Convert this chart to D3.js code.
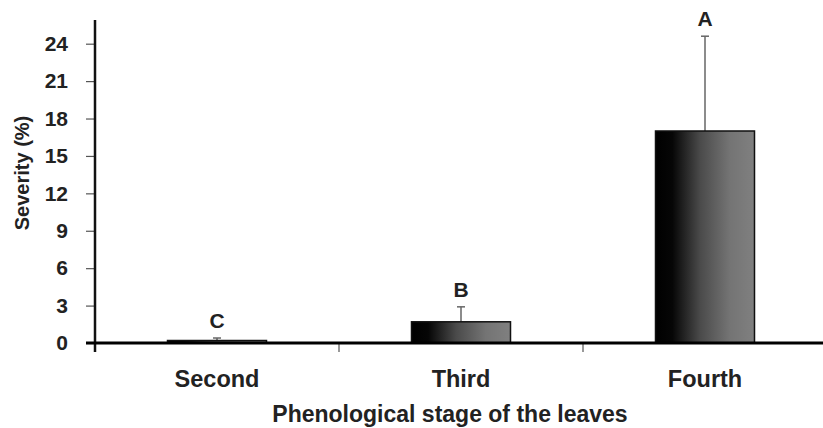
<!DOCTYPE html>
<html>
<head>
<meta charset="utf-8">
<script src="https://cdn.jsdelivr.net/npm/d3@7"></script>
<style>
  body { margin: 0; background: #fff; }
  text { font-family: "Liberation Sans", Arial, sans-serif; font-weight: bold; fill: #222; }
</style>
</head>
<body>
<svg id="chart" width="823" height="428"></svg>
<script>
const stages = ['Second', 'Third', 'Fourth']
const severity = [0.2, 1.7, 17.0]
const errors = [0.2, 1.2, 7.6]
const letters = ['C', 'B', 'A']
const yTicks = [0, 3, 6, 9, 12, 15, 18, 21, 24]

const svg = d3.select('#chart')

const x = d3.scaleBand().domain(stages).range([95, 827]).paddingInner(0).paddingOuter(0)
const y = d3.scaleLinear().domain([0, 25.9]).range([343, 20])

// gradient for the bars
const grad = svg.append('defs').append('linearGradient')
  .attr('id', 'barGrad').attr('x1', '0%').attr('x2', '100%').attr('y1', '0%').attr('y2', '0%')
grad.append('stop').attr('offset', '0%').attr('stop-color', '#000')
grad.append('stop').attr('offset', '17%').attr('stop-color', '#060606')
grad.append('stop').attr('offset', '45%').attr('stop-color', '#4a4a4a')
grad.append('stop').attr('offset', '75%').attr('stop-color', '#747474')
grad.append('stop').attr('offset', '100%').attr('stop-color', '#808080')

const barW = 99
const data = stages.map((s, i) => ({ stage: s, v: severity[i], e: errors[i], l: letters[i] }))

// error bars (drawn first so bars cover the lower part)
const eb = svg.append('g').attr('stroke', '#666').attr('stroke-width', 1.5)
eb.selectAll('line.v').data(data).join('line')
  .attr('x1', d => x(d.stage) + x.bandwidth() / 2)
  .attr('x2', d => x(d.stage) + x.bandwidth() / 2)
  .attr('y1', d => y(d.v))
  .attr('y2', d => y(d.v + d.e))
eb.selectAll('line.c').data(data).join('line')
  .attr('x1', d => x(d.stage) + x.bandwidth() / 2 - 4)
  .attr('x2', d => x(d.stage) + x.bandwidth() / 2 + 4)
  .attr('y1', d => y(d.v + d.e))
  .attr('y2', d => y(d.v + d.e))

svg.append('g').selectAll('rect').data(data).join('rect')
  .attr('x', d => x(d.stage) + x.bandwidth() / 2 - barW / 2)
  .attr('width', barW)
  .attr('y', d => y(d.v))
  .attr('height', d => y(0) - y(d.v))
  .attr('fill', 'url(#barGrad)')
  .attr('stroke', '#111')
  .attr('stroke-width', 1.5)

svg.append('g').selectAll('text').data(data).join('text')
  .attr('x', d => x(d.stage) + x.bandwidth() / 2)
  .attr('y', d => y(d.v + d.e) - 10)
  .attr('text-anchor', 'middle')
  .style('font-size', '21px')
  .text(d => d.l)

// y axis
const yAxis = svg.append('g').attr('transform', 'translate(95,0)')
  .call(d3.axisLeft(y).tickValues(yTicks).tickSize(9).tickPadding(18))
yAxis.select('.domain').remove()
yAxis.selectAll('.tick line').attr('stroke', '#555').attr('stroke-width', 1.2).attr('x2', -9)
yAxis.selectAll('.tick text').style('font-size', '21px').attr('fill', '#222').attr('x', -27)
svg.append('line').attr('x1', 95).attr('x2', 95).attr('y1', y.range()[1]).attr('y2', 352)
  .attr('stroke', '#111').attr('stroke-width', 2.5)

// x axis
const xAxis = svg.append('g').attr('transform', 'translate(0,343)')
  .call(d3.axisBottom(x).tickSize(0).tickPadding(27))
xAxis.select('.domain').remove()
xAxis.selectAll('.tick text').style('font-size', '23.5px').attr('fill', '#222')
svg.append('g').selectAll('line').data(stages.slice(1)).join('line')
  .attr('x1', d => x(d)).attr('x2', d => x(d)).attr('y1', 343).attr('y2', 352)
  .attr('stroke', '#555').attr('stroke-width', 1.2)
svg.append('line').attr('x1', 86).attr('x2', 827).attr('y1', 343).attr('y2', 343)
  .attr('stroke', '#000').attr('stroke-width', 3)

svg.append('text')
  .attr('transform', 'translate(29,173) rotate(-90)')
  .attr('text-anchor', 'middle')
  .style('font-size', '20px')
  .text('Severity (%)')

svg.append('text')
  .attr('x', 450).attr('y', 422)
  .attr('text-anchor', 'middle')
  .style('font-size', '23px')
  .text('Phenological stage of the leaves')
</script>
</body>
</html>
